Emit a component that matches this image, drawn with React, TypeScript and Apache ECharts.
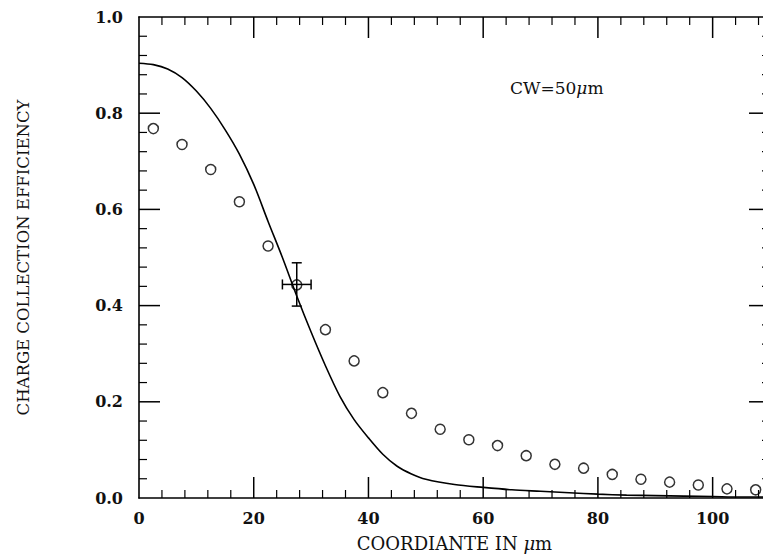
import React, { useEffect, useRef } from "react";
import * as echarts from "echarts";

// Measured data points (open circles)
const pointX = [2.5, 7.5, 12.5, 17.5, 22.5, 27.5, 32.5, 37.5, 42.5, 47.5, 52.5, 57.5, 62.5, 67.5, 72.5, 77.5, 82.5, 87.5, 92.5, 97.5, 102.5, 107.5];
const pointY = [0.768, 0.735, 0.683, 0.616, 0.524, 0.443, 0.35, 0.285, 0.219, 0.176, 0.143, 0.121, 0.109, 0.088, 0.07, 0.062, 0.049, 0.039, 0.033, 0.027, 0.019, 0.017];

// Simulation curve
const curveX = [0, 2.5, 5, 7.5, 10, 12.5, 15, 17.5, 20, 22.5, 25, 27.5, 30, 32.5, 35, 37.5, 40, 42.5, 45, 47.5, 50, 55, 60, 65, 70, 75, 80, 85, 90, 95, 100, 105, 110];
const curveY = [0.904, 0.901, 0.892, 0.874, 0.846, 0.81, 0.766, 0.715, 0.652, 0.575, 0.5, 0.42, 0.345, 0.275, 0.212, 0.163, 0.125, 0.091, 0.066, 0.05, 0.039, 0.028, 0.022, 0.017, 0.014, 0.011, 0.008, 0.006, 0.005, 0.004, 0.003, 0.002, 0.002];

// Error bar on one point
const errX = [27.5];
const errY = [0.444];
const errDx = [2.5];
const errDy = [0.045];

// Frame tick positions (inward ticks on all four sides)
const xMajorTicks = [20, 40, 60, 80, 100];
const xMinorTicks = [4, 8, 12, 16, 24, 28, 32, 36, 44, 48, 52, 56, 64, 68, 72, 76, 84, 88, 92, 96, 104, 108];
const yMajorTicks = [0.2, 0.4, 0.6, 0.8];
const yMinorTicks = [0.04, 0.08, 0.12, 0.16, 0.24, 0.28, 0.32, 0.36, 0.44, 0.48, 0.52, 0.56, 0.64, 0.68, 0.72, 0.76, 0.84, 0.88, 0.92, 0.96];

const X_MIN = 0;
const X_MAX = 110;
const Y_MIN = 0;
const Y_MAX = 1;

const FONT = "DejaVu Serif";

const axisLine = () => ({ show: true, onZero: false, lineStyle: { color: "#000", width: 1.6 } });

function tickSeries(values: number[], vertical: boolean, len: number, width: number): any {
  return {
    type: "custom",
    xAxisIndex: 0,
    yAxisIndex: 0,
    clip: false,
    silent: true,
    z: 1,
    data: values.map((v) => (vertical ? [v, Y_MIN] : [X_MIN, v])),
    renderItem: (params: any, api: any) => {
      const st = { stroke: "#000", lineWidth: width };
      if (vertical) {
        const v = api.value(0);
        const b = api.coord([v, Y_MIN]);
        const t = api.coord([v, Y_MAX]);
        return {
          type: "group",
          children: [
            { type: "line", shape: { x1: b[0], y1: b[1], x2: b[0], y2: b[1] - len }, style: st },
            { type: "line", shape: { x1: t[0], y1: t[1], x2: t[0], y2: t[1] + len }, style: st },
          ],
        };
      }
      const v = api.value(1);
      const l = api.coord([X_MIN, v]);
      const r = api.coord([X_MAX, v]);
      return {
        type: "group",
        children: [
          { type: "line", shape: { x1: l[0], y1: l[1], x2: l[0] + len, y2: l[1] }, style: st },
          { type: "line", shape: { x1: r[0], y1: r[1], x2: r[0] - len, y2: r[1] }, style: st },
        ],
      };
    },
  };
}

export default function App() {
  const ref = useRef<HTMLDivElement>(null);
  useEffect(() => {
    if (!ref.current) return;
    const chart = echarts.init(ref.current, undefined, { renderer: "svg" });
    const option: any = {
      animation: false,
      backgroundColor: "#fff",
      grid: { left: 139, top: 17, right: 10, bottom: 57, outerBoundsMode: "none" },
      xAxis: [
        {
          type: "value",
          position: "bottom",
          min: X_MIN,
          max: X_MAX,
          interval: 20,
          axisLine: axisLine(),
          axisTick: { show: false },
          splitLine: { show: false },
          axisLabel: {
            showMaxLabel: false,
            margin: 12,
            fontFamily: FONT,
            fontSize: 16,
            fontWeight: "bold",
            color: "#111",
          },
          name: "COORDIANTE IN {i|μ}m",
          nameLocation: "middle",
          nameGap: 36,
          nameTextStyle: {
            fontFamily: FONT,
            fontSize: 18,
            color: "#111",
            rich: { i: { fontFamily: FONT, fontSize: 18, fontStyle: "italic", color: "#111" } },
          },
        },
        {
          type: "value",
          position: "top",
          min: X_MIN,
          max: X_MAX,
          interval: 20,
          axisLine: axisLine(),
          axisTick: { show: false },
          splitLine: { show: false },
          axisLabel: { show: false },
        },
      ],
      yAxis: [
        {
          type: "value",
          position: "left",
          min: Y_MIN,
          max: Y_MAX,
          interval: 0.2,
          axisLine: axisLine(),
          axisTick: { show: false },
          splitLine: { show: false },
          axisLabel: {
            margin: 16,
            fontFamily: FONT,
            fontSize: 16,
            fontWeight: "bold",
            color: "#111",
            formatter: (v: number) => v.toFixed(1),
          },
          name: "CHARGE COLLECTION EFFICIENCY",
          nameLocation: "middle",
          nameGap: 107,
          nameRotate: 90,
          nameTextStyle: { fontFamily: FONT, fontSize: 16.5, color: "#111" },
        },
        {
          type: "value",
          position: "right",
          min: Y_MIN,
          max: Y_MAX,
          interval: 0.2,
          axisLine: axisLine(),
          axisTick: { show: false },
          splitLine: { show: false },
          axisLabel: { show: false },
        },
      ],
      graphic: [
        {
          type: "text",
          left: 510,
          top: 79,
          style: {
            text: "CW=50{i|μ}m",
            fontFamily: FONT,
            fontSize: 17,
            fill: "#111",
            rich: { i: { fontFamily: FONT, fontSize: 17, fontStyle: "italic", fill: "#111" } },
          },
        },
      ],
      series: [
        tickSeries(xMajorTicks, true, 21, 1.5),
        tickSeries(xMinorTicks, true, 8, 1.2),
        tickSeries(yMajorTicks, false, 21, 1.5),
        tickSeries(yMinorTicks, false, 8, 1.2),
        {
          type: "line",
          xAxisIndex: 0,
          yAxisIndex: 0,
          data: curveX.map((x, i) => [x, curveY[i]]),
          showSymbol: false,
          smooth: 0.3,
          lineStyle: { color: "#000", width: 1.6 },
          z: 2,
        },
        {
          type: "custom",
          xAxisIndex: 0,
          yAxisIndex: 0,
          data: errX.map((x, i) => [x, errY[i], errDx[i], errDy[i]]),
          renderItem: (params: any, api: any) => {
            const x = api.value(0);
            const y = api.value(1);
            const dx = api.value(2);
            const dy = api.value(3);
            const l = api.coord([x - dx, y]);
            const r = api.coord([x + dx, y]);
            const t = api.coord([x, y + dy]);
            const b = api.coord([x, y - dy]);
            const cap = 5;
            const st = { stroke: "#000", lineWidth: 1.5 };
            return {
              type: "group",
              children: [
                { type: "line", shape: { x1: l[0], y1: l[1], x2: r[0], y2: r[1] }, style: st },
                { type: "line", shape: { x1: t[0], y1: t[1], x2: b[0], y2: b[1] }, style: st },
                { type: "line", shape: { x1: l[0], y1: l[1] - cap, x2: l[0], y2: l[1] + cap }, style: st },
                { type: "line", shape: { x1: r[0], y1: r[1] - cap, x2: r[0], y2: r[1] + cap }, style: st },
                { type: "line", shape: { x1: t[0] - cap, y1: t[1], x2: t[0] + cap, y2: t[1] }, style: st },
                { type: "line", shape: { x1: b[0] - cap, y1: b[1], x2: b[0] + cap, y2: b[1] }, style: st },
              ],
            };
          },
          z: 3,
        },
        {
          type: "scatter",
          xAxisIndex: 0,
          yAxisIndex: 0,
          data: pointX.map((x, i) => [x, pointY[i]]),
          symbol: "circle",
          symbolSize: 10,
          itemStyle: { color: "rgba(0,0,0,0)", borderColor: "#000", borderWidth: 1.5 },
          z: 4,
        },
      ],
    };
    chart.setOption(option);
    return () => chart.dispose();
  }, []);
  return (
    <div
      style={{ position: "fixed", left: 0, top: 0, width: 763, height: 555, overflow: "hidden", background: "#fff" }}
    >
      <div ref={ref} style={{ width: 780, height: 555 }} />
    </div>
  );
}
